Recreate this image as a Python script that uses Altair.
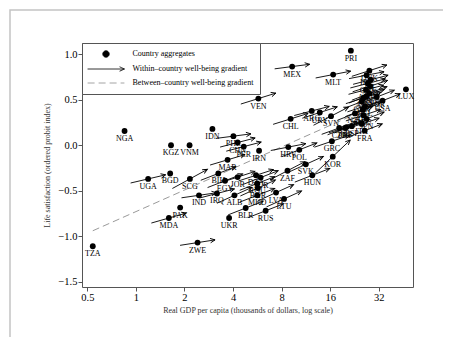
import math
import altair as alt
import pandas as pd

# ---- data ----
codes = ["TZA","NGA","UGA","BGD","KGZ","MDA","PAK","VNM","SCG","ZWE","IND","IDN","IRQ","BIH","EGY",
         "MAR","UKR","PHL","ALB","CHN","JOR","PER","BLR","DZA","ROU","MKD","BGR","VEN","IRN","TUR",
         "RUS","LVA","LTU","ZAF","HRV","CHL","MEX","POL","SVK","ARG","HUN","URY","SVN","GRC","KOR",
         "MLT","CZE","PRT","ISR","PRI","ESP","NZL","ITA","GBR","FIN","DEU","AUS","FRA","BEL","AUT",
         "IRL","SWE","JPN","CHE","DNK","CAN","NLD","ISL","NOR","USA","LUX"]
gdp = [0.54,0.85,1.19,1.63,1.65,1.60,1.88,2.15,2.16,2.41,2.46,2.98,3.18,3.24,3.57,
       3.70,3.78,4.02,4.08,4.27,4.27,4.66,4.79,5.55,5.65,5.65,5.70,5.74,5.80,5.93,
       6.37,7.39,8.28,8.70,8.80,9.10,9.30,10.3,11.3,12.3,12.4,13.8,16.2,16.4,16.6,
       16.7,18.2,19.8,20.2,21.5,21.8,22.8,25.1,25.1,25.5,25.7,25.7,26.2,26.3,26.7,
       26.9,26.9,26.9,27.4,28.0,28.0,28.3,28.5,31.1,33.8,47.2]
lifesat = [-1.11,0.157,-0.37,-0.31,0.0,-0.80,-0.685,0.0,-0.37,-1.07,-0.55,0.18,-0.53,-0.31,-0.39,
           -0.16,-0.80,0.10,-0.55,0.03,-0.35,-0.015,-0.69,-0.33,-0.42,-0.55,-0.47,0.513,-0.06,-0.355,
           -0.72,-0.52,-0.59,-0.28,-0.02,0.29,0.865,-0.05,-0.21,0.377,-0.33,0.36,0.32,0.044,-0.125,
           0.777,0.19,0.19,0.20,1.04,0.21,0.35,0.235,0.48,0.39,0.33,0.52,0.16,0.43,0.61,
           0.77,0.54,0.29,0.68,0.82,0.57,0.65,0.72,0.53,0.49,0.615]
# within-country gradient (life satisfaction per log-point of income); None = no arrow
gradient = [None,None,0.18,None,None,0.22,None,None,0.42,0.12,0.11,None,0.20,0.30,0.30,
            0.23,None,0.10,0.35,0.20,0.25,0.20,0.30,0.25,0.30,0.30,0.35,0.24,None,0.30,
            0.30,0.35,0.35,0.40,0.15,0.24,0.10,0.30,0.35,0.20,0.30,0.25,0.40,0.26,0.73,
            0.15,0.28,0.30,0.25,None,0.30,0.30,0.25,0.30,0.30,0.25,0.25,0.30,0.25,0.20,
            0.15,0.30,0.30,0.20,0.25,0.30,0.25,0.20,0.30,0.30,None]

between_gdp = [0.54, 28.0]
between_ls = [-0.94, 0.41]

x_ticks = [0.5, 1, 2, 4, 8, 16, 32]
y_ticks = [-1.5, -1.0, -0.5, 0.0, 0.5, 1.0]
legend_items = ["Country aggregates", "Within\u2013country well-being gradient",
                "Between\u2013country well-being gradient"]

# ---- layout constants ----
W, H = 331, 244
XD = [0.463, 52.2]
YD = [-1.558, 1.124]
HALF = 0.25  # arrows span +/- 0.25 log points of income
FONT = "Liberation Serif"

px_per_ln = W / math.log(XD[1] / XD[0])
px_per_unit = H / (YD[1] - YD[0])

df = pd.DataFrame({"code": codes, "gdp": gdp, "ls": lifesat, "grad": gradient})
arr = df.dropna(subset=["grad"]).copy()
arr["x0"] = arr["gdp"] * math.exp(-HALF)
arr["x1"] = arr["gdp"] * math.exp(HALF)
arr["y0"] = arr["ls"] - HALF * arr["grad"]
arr["y1"] = arr["ls"] + HALF * arr["grad"]
arr["rot"] = [360 - math.degrees(math.atan(g * px_per_unit / px_per_ln)) for g in arr["grad"]]

bdf = pd.DataFrame({"gdp": between_gdp, "ls": between_ls})

xscale = alt.Scale(type="log", base=2, domain=XD, nice=False)
yscale = alt.Scale(domain=YD, nice=False, zero=False)

xaxis = alt.Axis(values=x_ticks, format="~g", grid=False, domain=False,
                 title="Real GDP per capita (thousands of dollars, log scale)", titlePadding=4)
yaxis = alt.Axis(values=y_ticks, format=".1f", grid=False, domain=False,
                 title="Life satisfaction (ordered probit index)", titlePadding=6)

# decorative card border around the whole figure (pixel values, not data)
card = alt.Chart(pd.DataFrame({"k": [0]})).mark_rect(
    fill="transparent", stroke="#c4c4c4", strokeWidth=1.5, clip=False
).encode(
    x=alt.value(-72), x2=alt.value(364), y=alt.value(-33), y2=alt.value(303)
)

between = alt.Chart(bdf).mark_line(color="#9a9a9a", strokeWidth=1, strokeDash=[7, 4]).encode(
    x=alt.X("gdp:Q", scale=xscale, axis=xaxis),
    y=alt.Y("ls:Q", scale=yscale, axis=yaxis),
)

shafts = alt.Chart(arr).mark_rule(color="black", strokeWidth=0.9).encode(
    x="x0:Q", x2="x1:Q", y="y0:Q", y2="y1:Q"
)

heads = alt.Chart(arr).mark_point(
    shape="M-1.2,-0.55L0,0L-1.2,0.55", size=64, filled=False, color="black",
    strokeWidth=0.9, opacity=1
).encode(
    x="x1:Q", y="y1:Q", angle=alt.Angle("rot:Q", scale=None)
)

dots = alt.Chart(df).mark_circle(size=34, color="black", opacity=1).encode(
    x="gdp:Q", y="ls:Q"
)

labels = alt.Chart(df).mark_text(font=FONT, fontSize=8, dy=8, color="black").encode(
    x="gdp:Q", y="ls:Q", text="code:N"
)

# legend (built from a layer carrying only the legend scale)
circle_path = "M-0.8,0A0.8,0.8,0,1,1,0.8,0A0.8,0.8,0,1,1,-0.8,0Z"
arrow_path = "M-4.6,0L4.6,0M3.4,-0.55L4.6,0L3.4,0.55"
line_path = "M-4.6,0L4.6,0"
leg = alt.Legend(title=None, orient="none", legendX=0, legendY=0, direction="vertical",
                 strokeColor="#555", fillColor="white", padding=6.5, symbolSize=64,
                 symbolOffset=13, labelOffset=22, rowPadding=5, labelFont=FONT,
                 labelFontSize=8, labelColor="black", symbolStrokeWidth=0.9, labelLimit=400)
leg_df = pd.DataFrame({"item": pd.Series([], dtype=str), "gdp": pd.Series([], dtype=float),
                       "ls": pd.Series([], dtype=float)})
legend_layer = alt.Chart(leg_df).mark_point(filled=True, opacity=1).encode(
    x="gdp:Q", y="ls:Q",
    shape=alt.Shape("item:N", scale=alt.Scale(domain=legend_items,
                                              range=[circle_path, arrow_path, line_path]), legend=leg),
    fill=alt.Fill("item:N", scale=alt.Scale(domain=legend_items,
                                            range=["black", "transparent", "transparent"]), legend=leg),
    stroke=alt.Stroke("item:N", scale=alt.Scale(domain=legend_items,
                                                range=["black", "black", "#9a9a9a"]), legend=leg),
    strokeDash=alt.StrokeDash("item:N", scale=alt.Scale(domain=legend_items,
                                                        range=[[1, 0], [1, 0], [7, 4]]), legend=leg),
)

chart = alt.layer(card, between, shafts, heads, dots, labels, legend_layer).properties(
    width=W, height=H,
    autosize=alt.AutoSizeParams(type="none"),
    padding={"left": 74, "top": 35, "right": 30, "bottom": 50},
    background="white",
).configure_view(stroke="#555", strokeWidth=1).configure_axis(
    labelFont=FONT, labelFontSize=10.5, labelColor="black", tickColor="#555", tickSize=4,
    labelPadding=1, titleFont=FONT, titleFontSize=8, titleFontWeight="normal", titleColor="#333"
)

chart.save("out.html", embed_options={"renderer": "svg", "actions": False})
